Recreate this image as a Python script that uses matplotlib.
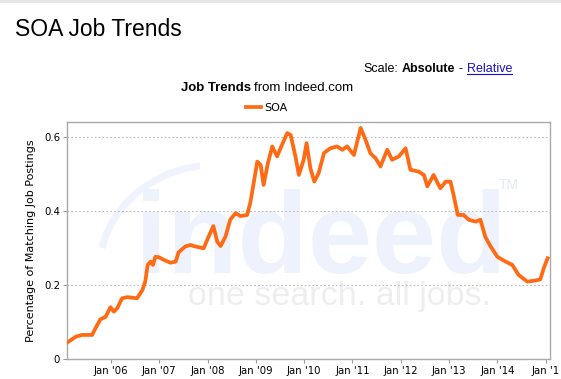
import matplotlib.pyplot as plt
from matplotlib.patches import Arc
from matplotlib.ticker import FixedLocator

# readings of the SOA curve (decimal year, % of postings)
years = [2005.09, 2005.18, 2005.27, 2005.40, 2005.61, 2005.68, 2005.78, 2005.89,
         2005.99, 2006.06, 2006.13, 2006.23, 2006.34, 2006.54, 2006.65, 2006.71,
         2006.76, 2006.82, 2006.87, 2006.92, 2006.99, 2007.09, 2007.23, 2007.34,
         2007.40, 2007.54, 2007.65, 2007.71, 2007.92, 2008.02, 2008.12, 2008.20,
         2008.27, 2008.37, 2008.47, 2008.58, 2008.68, 2008.82, 2008.89, 2008.96,
         2009.03, 2009.10, 2009.16, 2009.25, 2009.34, 2009.44, 2009.54, 2009.65,
         2009.72, 2009.82, 2009.89, 2009.99, 2010.05, 2010.13, 2010.21, 2010.30,
         2010.41, 2010.54, 2010.68, 2010.79, 2010.89, 2011.03, 2011.17, 2011.27,
         2011.37, 2011.48, 2011.58, 2011.72, 2011.82, 2011.96, 2012.10, 2012.20,
         2012.37, 2012.48, 2012.55, 2012.68, 2012.82, 2012.93, 2013.03, 2013.10,
         2013.18, 2013.30, 2013.41, 2013.55, 2013.65, 2013.75, 2013.86, 2014.00,
         2014.17, 2014.31, 2014.44, 2014.62, 2014.79, 2014.89, 2014.96, 2015.04]
soa = [0.044, 0.052, 0.060, 0.065, 0.065, 0.083, 0.107, 0.114,
       0.140, 0.128, 0.137, 0.164, 0.167, 0.164, 0.186, 0.209,
       0.254, 0.263, 0.254, 0.276, 0.275, 0.268, 0.260, 0.263,
       0.288, 0.304, 0.308, 0.305, 0.299, 0.330, 0.359, 0.317,
       0.305, 0.330, 0.376, 0.394, 0.386, 0.389, 0.425, 0.479,
       0.533, 0.524, 0.470, 0.529, 0.574, 0.547, 0.578, 0.610,
       0.605, 0.547, 0.497, 0.538, 0.583, 0.515, 0.479, 0.502,
       0.556, 0.569, 0.574, 0.565, 0.574, 0.551, 0.624, 0.592,
       0.556, 0.542, 0.520, 0.565, 0.538, 0.547, 0.569, 0.511,
       0.506, 0.497, 0.466, 0.497, 0.461, 0.479, 0.479, 0.439,
       0.389, 0.389, 0.376, 0.371, 0.376, 0.330, 0.304, 0.276,
       0.263, 0.254, 0.227, 0.209, 0.212, 0.215, 0.245, 0.272]

tick_pos = list(range(2006, 2016))
tick_labels = ["Jan '06", "Jan '07", "Jan '08", "Jan '09", "Jan '10",
               "Jan '11", "Jan '12", "Jan '13", "Jan '14", "Jan '1"]
y_ticks = [0, 0.2, 0.4, 0.6]
y_labels = ["0", "0.2", "0.4", "0.6"]

W, H = 561, 379
fig = plt.figure(figsize=(W / 100, H / 100), dpi=100)
fig.patch.set_facecolor("white")
r = fig.canvas.get_renderer()


def row(parts, x, y, size, align="right"):
    # parts: (text, weight, color, gap_px_before); laid out in pixels
    arts = []
    for s, w, c, g in parts:
        arts.append(fig.text(0, y / H, s, family="Liberation Sans", fontsize=size,
                             weight=w, color=c, va="center", ha="left"))
    widths = [a.get_window_extent(r).width for a in arts]
    total = sum(widths) + sum(p[3] for p in parts)
    cur = x - total if align == "right" else x - total / 2
    for a, wd, p in zip(arts, widths, parts):
        cur += p[3]
        a.set_x(cur / W)
        cur += wd
    return arts


# thin grey strip at the very top of the page
fig.add_artist(plt.Rectangle((0, 1 - 3 / H), 1, 3 / H, transform=fig.transFigure,
                             color="#e6e6e6", lw=0))

fig.text(15 / W, 1 - 36 / H, "SOA Job Trends", family="Liberation Sans",
         fontsize=16.5, va="baseline", ha="left")

sc = row([("Scale:", "normal", "black", 0), ("Absolute", "bold", "black", 3),
          ("-", "normal", "black", 4), ("Relative", "normal", "#1a0dcc", 4)],
         512, H - 69, 9)
bb = sc[-1].get_window_extent(r)
fig.add_artist(plt.Line2D([bb.x0 / W, bb.x1 / W], [(bb.y0 + 1.5) / H] * 2,
                          color="#1a0dcc", lw=0.8))

row([("Job Trends", "bold", "black", 0), ("from Indeed.com", "normal", "black", 3)],
    267, H - 88, 9.5, align="center")

ax = fig.add_axes([67 / W, 20 / H, 483 / W, 237 / H])

# watermark logo
ax.add_patch(Arc((215, H - 272), 232, 214, theta1=98, theta2=168,
                 transform=None, color="#eef3fd", lw=5, zorder=0))
ax.text(0.14, 0.363, "indeed", transform=ax.transAxes, fontsize=83,
        weight="bold", color="#edf2fd", ha="left", va="baseline", zorder=0,
        family="Liberation Sans")
ax.text(0.915, 0.735, "TM", transform=ax.transAxes, fontsize=10,
        color="#e3e9f6", ha="center", va="center", zorder=0,
        family="Liberation Sans")
ax.text(0.25, 0.226, "one search. all jobs.", transform=ax.transAxes,
        fontsize=24.5, color="#eeeeee", ha="left", va="baseline", zorder=0,
        family="Liberation Sans")

ax.plot(years, soa, color="#ff6a13", lw=2.7, solid_joinstyle="round",
        label="SOA", zorder=3)

ax.set_xlim(2005.09, 2015.09)
ax.set_ylim(0, 0.64)
ax.xaxis.set_major_locator(FixedLocator(tick_pos))
ax.set_xticklabels(tick_labels)
ax.set_yticks(y_ticks)
ax.set_yticklabels(y_labels)
ax.tick_params(labelsize=7.3, length=3, color="#999999", pad=2)
for s in ax.spines.values():
    s.set_color("#aaaaaa")
    s.set_linewidth(1)
for yv in y_ticks[1:]:
    ax.axhline(yv, color="#bbbbbb", lw=0.8, ls=(0, (1.5, 2)), zorder=1)
ax.set_ylabel("Percentage of Matching Job Postings", fontsize=8, labelpad=6)

fig.legend(loc="center", bbox_to_anchor=(267 / W, 1 - 108 / H),
           frameon=False, fontsize=8, handlelength=1.3, handletextpad=0.3)

fig.savefig("out.png", dpi=100)
